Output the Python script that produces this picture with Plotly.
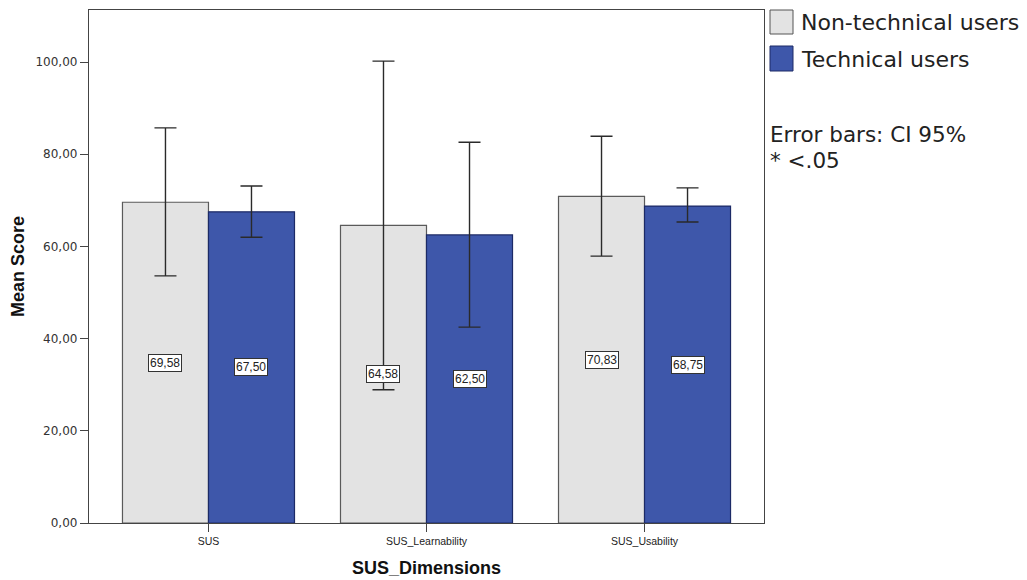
import plotly.graph_objects as go

categories = ["SUS", "SUS_Learnability", "SUS_Usability"]
groups = ["Non-technical users", "Technical users"]
nontech_mean = [69.58, 64.58, 70.83]
tech_mean = [67.50, 62.50, 68.75]
nontech_ci_upper = [85.7, 100.2, 83.9]
nontech_ci_lower = [53.6, 28.9, 57.9]
tech_ci_upper = [73.1, 82.6, 72.7]
tech_ci_lower = [62.0, 42.5, 65.3]
y_ticks = [0, 20, 40, 60, 80, 100]

W, H = 1027, 580
L, R, T, B = 89, 263, 10, 57
PW, PH = W - L - R, H - T - B
BARGAP = 0.211
FONT = "DejaVu Sans"
ARIAL = "Liberation Sans, Arial"

col_non = "#E3E3E3"
col_tech = "#3E57AA"

def px_to_paper(px, py):
    return (px - L) / PW, (H - B - py) / PH

fig = go.Figure()
series = [
    (groups[0], nontech_mean, nontech_ci_upper, nontech_ci_lower, col_non, "#5A5A5A"),
    (groups[1], tech_mean, tech_ci_upper, tech_ci_lower, col_tech, "#1C2A66"),
]
for name, mean, up, lo, fc, lc in series:
    fig.add_trace(go.Bar(
        name=name, x=categories, y=mean,
        marker=dict(color=fc, line=dict(color=lc, width=1.2)),
        error_y=dict(type="data", symmetric=False,
                     array=[u - m for u, m in zip(up, mean)],
                     arrayminus=[m - l for m, l in zip(mean, lo)],
                     color="#2A2A2A", thickness=1.4, width=11),
        showlegend=False,
    ))

# value labels at half bar height
off = (1 - BARGAP) / 4
annotations = []
for gi, mean in enumerate([nontech_mean, tech_mean]):
    for i, v in enumerate(mean):
        annotations.append(dict(
            x=i + (off if gi else -off), y=v / 2, xref="x", yref="y",
            text=f"{v:.2f}".replace(".", ","), showarrow=False,
            font=dict(family=ARIAL, size=12, color="#222"),
            bgcolor="white", bordercolor="#333", borderwidth=1, borderpad=1,
        ))

# manual legend
shapes = []
leg = [(groups[0], col_non, "#555", 10, 34, 22), (groups[1], col_tech, "#1C2A66", 46, 71, 59)]
for name, fc, lc, y0, y1, yc in leg:
    x0p, y0p = px_to_paper(770, y1)
    x1p, y1p = px_to_paper(793, y0)
    shapes.append(dict(type="rect", xref="paper", yref="paper", x0=x0p, x1=x1p, y0=y0p, y1=y1p,
                       fillcolor=fc, line=dict(color=lc, width=1)))
    tx, ty = px_to_paper(799, yc)
    annotations.append(dict(x=tx, y=ty, xref="paper", yref="paper", xanchor="left", yanchor="middle",
                            text=name, showarrow=False, font=dict(family=FONT, size=22, color="#222")))
for txt, yc in [("Error bars: CI 95%", 134), ("* &lt;.05", 160)]:
    tx, ty = px_to_paper(768, yc)
    annotations.append(dict(x=tx, y=ty, xref="paper", yref="paper", xanchor="left", yanchor="middle",
                            text=txt, showarrow=False, font=dict(family=FONT, size=21.5, color="#222")))

fig.update_layout(
    width=W, height=H,
    margin=dict(l=L, r=R, t=T, b=B, autoexpand=False),
    paper_bgcolor="white", plot_bgcolor="white",
    barmode="group", bargap=BARGAP, bargroupgap=0,
    separators=",.",
    font=dict(family=FONT, color="#333"),
    annotations=annotations, shapes=shapes,
)
fig.update_xaxes(
    range=[-0.548, 2.548], showline=True, mirror=True, linecolor="#444", linewidth=1.3,
    ticks="outside", ticklen=8, tickcolor="#444", tickwidth=1.3,
    tickfont=dict(family=ARIAL, size=10.5, color="#222"),
    title=dict(text="<b>SUS_Dimensions</b>", font=dict(family=ARIAL, size=18, color="#111"), standoff=15),
    showgrid=False, zeroline=False,
)
fig.update_yaxes(
    range=[0, 111.28], tickvals=y_ticks, tickformat=".2f",
    showline=True, mirror=True, linecolor="#444", linewidth=1.3,
    ticks="outside", ticklen=8, tickcolor="#444", tickwidth=1.3,
    tickfont=dict(family=FONT, size=12, color="#333"),
    title=dict(text="<b>Mean Score</b>", font=dict(family=ARIAL, size=18, color="#111"), standoff=6),
    showgrid=False, zeroline=False,
)
fig.write_html("out.html")
